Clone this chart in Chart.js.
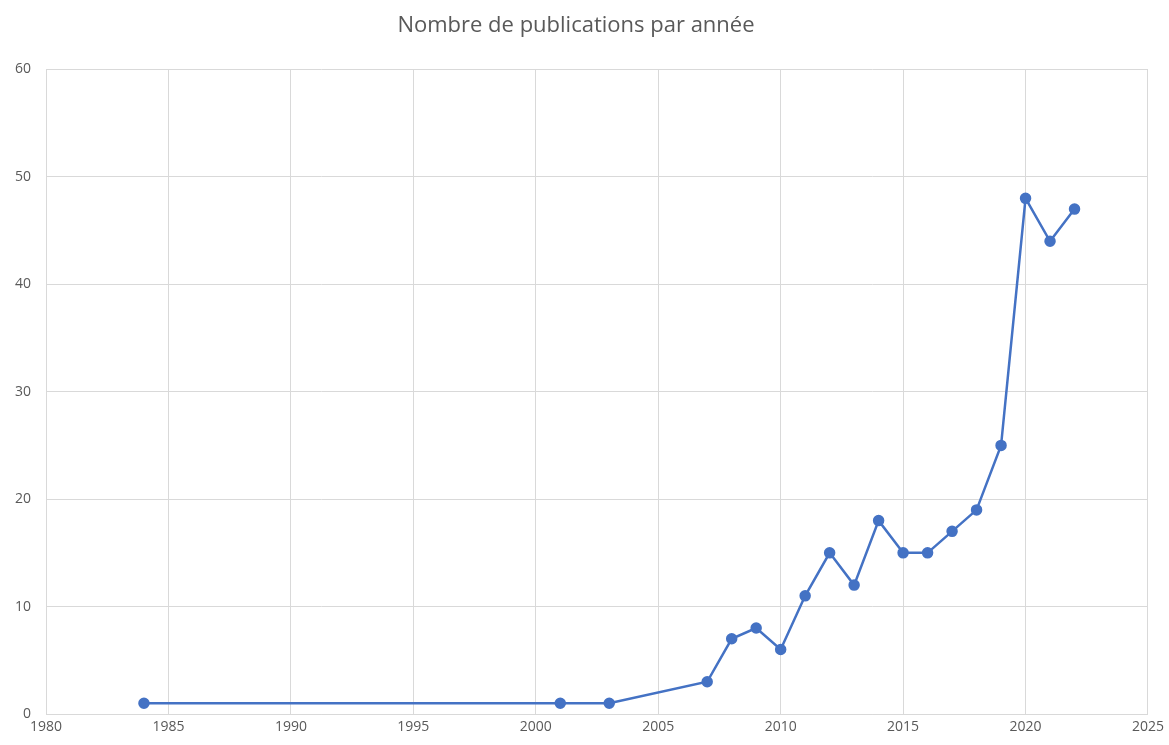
<!DOCTYPE html>
<html><head><meta charset="utf-8">
<script src="https://cdn.jsdelivr.net/npm/chart.js@4"></script>
<style>html,body{margin:0;padding:0;background:#fff}#w{width:1169px;height:745px}</style>
</head><body><div id="w"><canvas id="c"></canvas></div>
<script>
const years = [1984, 2001, 2003, 2007, 2008, 2009, 2010, 2011, 2012, 2013, 2014, 2015, 2016, 2017, 2018, 2019, 2020, 2021, 2022];
const counts = [1, 1, 1, 3, 7, 8, 6, 11, 15, 12, 18, 15, 15, 17, 19, 25, 48, 44, 47];
const titleText = 'Nombre de publications par année';
const xMin = 1980, xMax = 2025, xStep = 5;
const yMin = 0, yMax = 60, yStep = 10;

const pts = years.map((y, i) => ({x: y, y: counts[i]}));
new Chart(document.getElementById('c'), {
  type: 'line',
  data: { datasets: [{ data: pts, borderColor: '#4472C4', backgroundColor: '#4472C4', borderWidth: 2.5, pointRadius: 4.5, pointHoverRadius: 4.5, tension: 0 }] },
  options: {
    responsive: true, maintainAspectRatio: false, animation: false,
    layout: { padding: { left: 0, right: 17, top: 0, bottom: 0 } },
    plugins: {
      legend: { display: false }, tooltip: { enabled: false },
      title: { display: true, text: titleText, color: '#595959', font: { family: 'Open Sans', size: 22, weight: 'normal' }, padding: { top: 13, bottom: 30 } }
    },
    scales: {
      x: { type: 'linear', min: xMin, max: xMax,
        ticks: { stepSize: xStep, color: '#595959', font: { family: 'Open Sans', size: 14 }, padding: 5, callback: v => String(v) },
        grid: { color: '#d9d9d9', drawTicks: false }, border: { color: '#d9d9d9' },
        afterFit: s => { s.height = 31; } },
      y: { min: yMin, max: yMax,
        ticks: { stepSize: yStep, color: '#595959', font: { family: 'Open Sans', size: 14 }, padding: 15 },
        grid: { color: '#d9d9d9', drawTicks: false }, border: { display: false },
        afterFit: s => { s.width = 46; } }
    }
  }
});
</script></body></html>
